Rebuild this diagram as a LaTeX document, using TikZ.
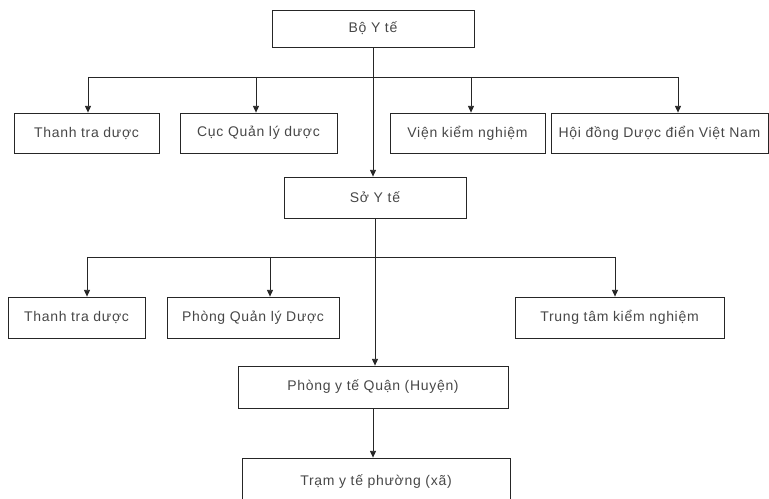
\documentclass[tikz,border=0pt]{standalone}
\usepackage{fontspec}
\setmainfont[LetterSpace=5]{Liberation Sans}
\usetikzlibrary{arrows.meta}

\begin{document}
\begin{tikzpicture}[x=0.75pt,y=0.75pt,yscale=-1,xscale=1,
    box/.style={draw=black!85, line width=0.6pt, rectangle, inner sep=0pt, text=black!72, font=\fontsize{10.5}{12}\selectfont},
    to/.style={draw=black!85, line width=0.6pt, -{Triangle[width=4.5pt,length=5pt]}},
    bus/.style={draw=black!85, line width=0.6pt}]
    \useasboundingbox (0,0) rectangle (769,499);
    \clip (0,0) rectangle (769,499);

    %Bo Y te
    \node[box, minimum width=151.5pt, minimum height=27.75pt] (bo) at (373,28.5) {Bộ Y tế};
    %cap trung uong
    \node[box, minimum width=108.75pt, minimum height=30pt] (tt1) at (86.5,133) {Thanh tra dược};
    \node[box, minimum width=117.75pt, minimum height=30pt] (cql) at (258.5,133) {Cục Quản lý dược};
    \node[box, minimum width=116.25pt, minimum height=30pt] (vkn) at (467.5,133) {Viện kiểm nghiệm};
    \node[box, minimum width=162.75pt, minimum height=30pt] (hd) at (659.5,133) {Hội đồng Dược điển Việt Nam};
    %So Y te
    \node[box, minimum width=136.5pt, minimum height=30.75pt] (so) at (375,197.5) {Sở Y tế};
    %cap tinh
    \node[box, minimum width=102.75pt, minimum height=30.75pt] (tt2) at (76.5,317.5) {Thanh tra dược};
    \node[box, minimum width=129pt, minimum height=30.75pt] (pql) at (253,317.5) {Phòng Quản lý Dược};
    \node[box, minimum width=156.75pt, minimum height=30.75pt] (ttkn) at (619.5,317.5) {Trung tâm kiểm nghiệm};
    %cap huyen, xa
    \node[box, minimum width=202.5pt, minimum height=31.5pt] (pyt) at (373,387) {Phòng y tế Quận (Huyện)};
    \node[box, minimum width=201pt, minimum height=36pt] (tram) at (376,482) {Trạm y tế phường (xã)};

    %Straight Lines
    \coordinate (a1) at (88,77);
    \coordinate (a2) at (256,77);
    \coordinate (a3) at (471,77);
    \coordinate (a4) at (678,77);
    \draw[bus] (a1) -- (a4);
    \foreach \n/\b in {a1/tt1, a2/cql, a3/vkn, a4/hd}
        \draw[to] (\n) -- (\n |- \b.north);
    \draw[to] (bo.south) -- (bo.south |- so.north);

    \coordinate (c1) at (87,257);
    \coordinate (c2) at (270,257);
    \coordinate (c3) at (615,257);
    \draw[bus] (c1) -- (c3);
    \foreach \n/\b in {c1/tt2, c2/pql, c3/ttkn}
        \draw[to] (\n) -- (\n |- \b.north);
    \draw[to] (so.south) -- (so.south |- pyt.north);
    \draw[to] (pyt.south) -- (pyt.south |- tram.north);

\end{tikzpicture}
\end{document}
